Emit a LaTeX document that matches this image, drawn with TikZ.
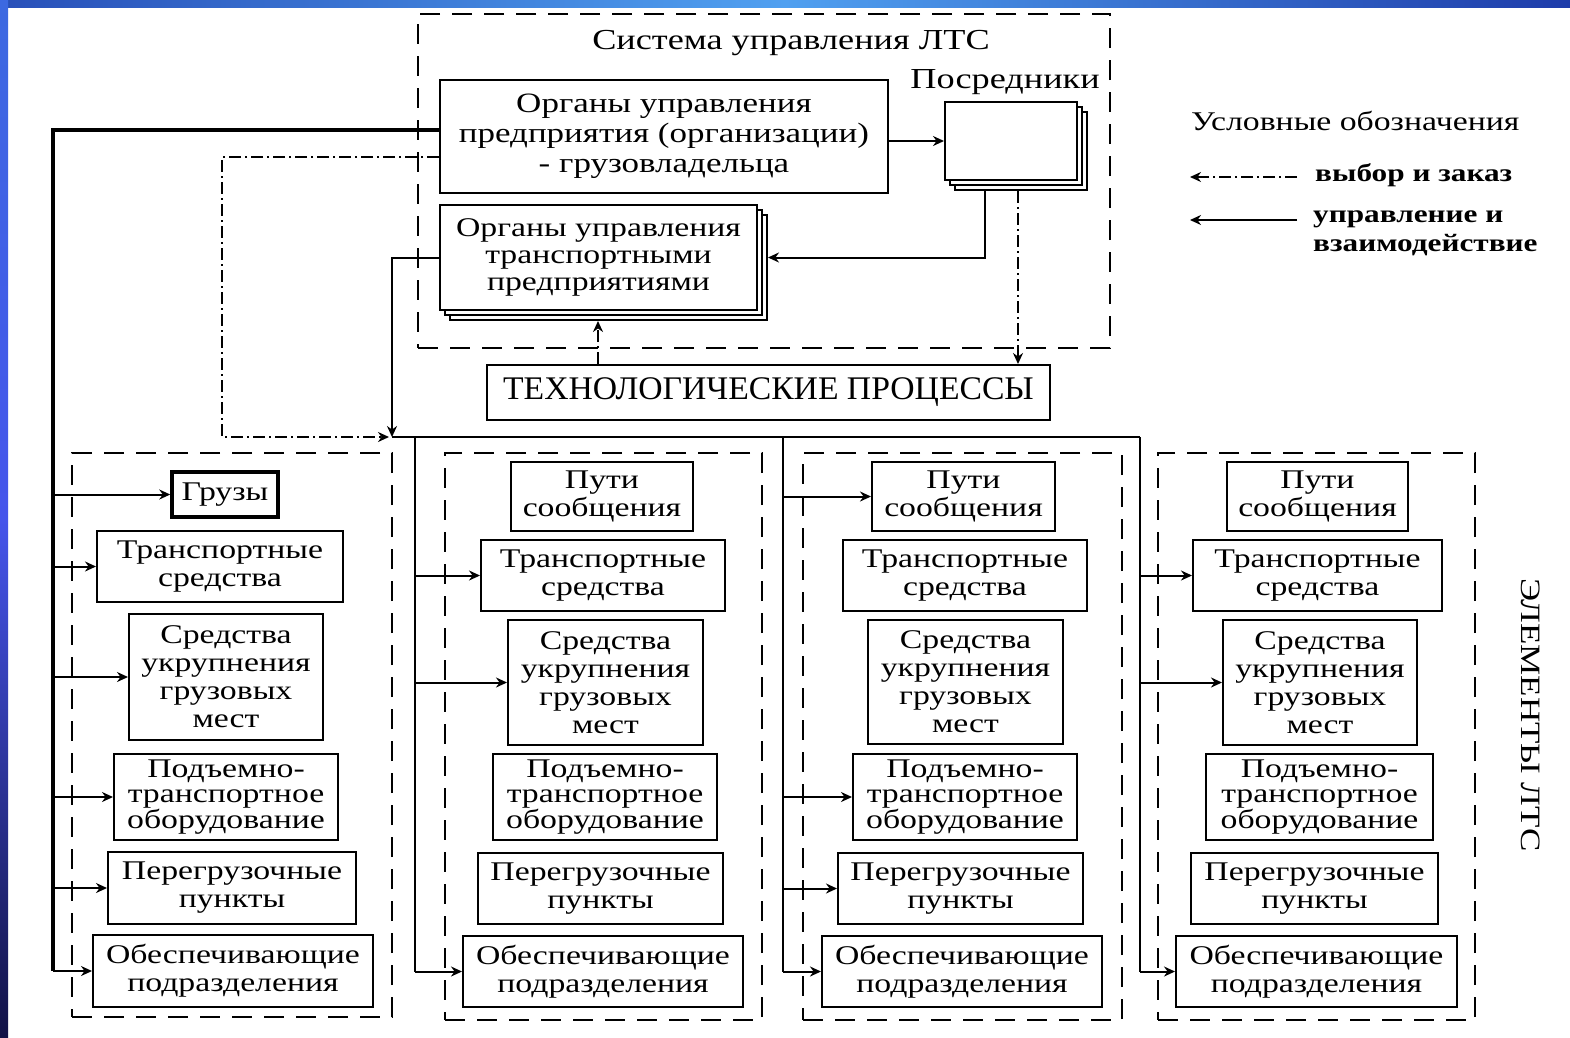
\documentclass[tikz,border=0pt]{standalone}
\usepackage{fontspec}
\setmainfont{Liberation Serif}
\newfontfamily\wf{Liberation Serif}[FakeStretch=1.25]
\newfontfamily\nf{Liberation Serif}[FakeStretch=1.02]
\usetikzlibrary{arrows.meta}
\definecolor{stripA}{RGB}{40,80,185}
\definecolor{stripB}{RGB}{80,160,240}
\definecolor{stripC}{RGB}{30,60,170}
\definecolor{leftA}{RGB}{60,105,225}
\definecolor{leftB}{RGB}{70,85,235}
\definecolor{leftC}{RGB}{18,18,70}
\tikzset{
 box/.style={draw, line width=2pt, fill=white, inner sep=0pt, align=center, font=\wf\fontsize{27}{28}\selectfont},
 dbox/.style={draw, line width=2pt, dash pattern=on 20pt off 12pt, fill=none},
 arr/.style={line width=2pt, -{Stealth[length=11pt,width=10pt]}},
 ln/.style={line width=2pt},
 bus/.style={line width=3.5pt},
 dd/.style={line width=2pt, dash pattern=on 12pt off 4pt on 2pt off 4pt},
 ddarr/.style={dd, -{Stealth[length=11pt,width=10pt]}},
 lbl/.style={inner sep=0pt, font=\wf\fontsize{27}{28}\selectfont},
}
\newcommand\bx[7][]{\node[box,minimum width={(#5-#3)*1pt},minimum height={(#6-#4)*1pt},#1] (#2) at ({(#3+#5)/2},{(#4+#6)/2}) {#7};}
\begin{document}
\begin{tikzpicture}[x=1pt,y=-1pt]
\useasboundingbox (0,0) rectangle (1570,1037);
\fill[white] (0,0) rectangle (1570,1037);
\shade[left color=stripA, right color=stripC, middle color=stripB] (0,0) rectangle (1570,7);
\shade[top color=leftA, bottom color=leftC, middle color=leftB] (0,0) rectangle (8,1037);

% --- upper system
\bx[dbox]{sys}{418}{14}{1110}{348}{}
\node[lbl, font=\wf\fontsize{29}{30}\selectfont] (title) at (791,43) {Система управления ЛТС};
\bx[font=\wf\fontsize{28}{30}\selectfont]{A}{440}{80}{888}{193}{Органы управления\\предприятия (организации)\\- грузовладельца}
\node[lbl, font=\wf\fontsize{29}{30}\selectfont] (posl) at (1005,82) {Посредники};
\bx{P3}{955}{112}{1087}{190}{}
\bx{P2}{950}{107}{1082}{185}{}
\bx{P}{945}{102}{1077}{180}{}
\bx{B3}{450}{215}{767}{320}{}
\bx{B2}{445}{210}{762}{315}{}
\bx[font=\wf\fontsize{27}{27}\selectfont]{B}{440}{205}{757}{310}{Органы управления\\транспортными\\предприятиями}
\bx[font=\nf\fontsize{33}{34}\selectfont]{T}{487}{365}{1050}{420}{ТЕХНОЛОГИЧЕСКИЕ ПРОЦЕССЫ}

% --- legend
\node[lbl, anchor=west] (lgh) at (1191,121) {Условные обозначения};
\node[lbl, anchor=west, font=\wf\bfseries\fontsize{25}{28}\selectfont] (lg1) at (1315,175) {выбор и заказ};
\node[lbl, anchor=west, align=left, font=\wf\bfseries\fontsize{25}{29}\selectfont] (lg2) at (1313,233) {управление и\\взаимодействие};
\coordinate (l1s) at (1297,177);
\coordinate (l1e) at (1190,177);
\coordinate (l2s) at (1297,220);
\coordinate (l2e) at (1190,220);
\draw[ddarr] (l1s) -- (l1e);
\draw[arr] (l2s) -- (l2e);

\node[lbl, rotate=-90, font=\wf\fontsize{28}{28}\selectfont] (elem) at (1531,715) {ЭЛЕМЕНТЫ ЛТС};

% --- group 1
\bx[dbox]{G1}{72}{453}{392}{1017}{}
\bx[line width=3.5pt]{ga1}{172}{472}{278}{517}{Грузы}
\bx{ga2}{97}{531}{343}{602}{Транспортные\\средства}
\bx{ga3}{129}{614}{323}{740}{Средства\\укрупнения\\грузовых\\мест}
\bx[font=\wf\fontsize{27}{25}\selectfont]{ga4}{114}{754}{338}{840}{Подъемно-\\транспортное\\оборудование}
\bx{ga5}{108}{852}{356}{924}{Перегрузочные\\пункты}
\bx{ga6}{93}{935}{373}{1007}{Обеспечивающие\\подразделения}

% --- group 2
\bx[dbox]{G2}{445}{453}{762}{1020}{}
\bx{gb1}{511}{462}{693}{531}{Пути\\сообщения}
\bx{gb2}{481}{540}{725}{611}{Транспортные\\средства}
\bx{gb3}{508}{620}{703}{745}{Средства\\укрупнения\\грузовых\\мест}
\bx[font=\wf\fontsize{27}{25}\selectfont]{gb4}{493}{754}{717}{840}{Подъемно-\\транспортное\\оборудование}
\bx{gb5}{478}{853}{723}{924}{Перегрузочные\\пункты}
\bx{gb6}{463}{936}{743}{1007}{Обеспечивающие\\подразделения}

% --- group 3
\bx[dbox]{G3}{803}{453}{1122}{1020}{}
\bx{gc1}{872}{462}{1055}{531}{Пути\\сообщения}
\bx{gc2}{843}{540}{1087}{611}{Транспортные\\средства}
\bx{gc3}{868}{620}{1063}{744}{Средства\\укрупнения\\грузовых\\мест}
\bx[font=\wf\fontsize{27}{25}\selectfont]{gc4}{853}{754}{1077}{840}{Подъемно-\\транспортное\\оборудование}
\bx{gc5}{838}{853}{1083}{924}{Перегрузочные\\пункты}
\bx{gc6}{822}{936}{1102}{1007}{Обеспечивающие\\подразделения}

% --- group 4
\bx[dbox]{G4}{1158}{453}{1475}{1020}{}
\bx{gd1}{1227}{462}{1408}{531}{Пути\\сообщения}
\bx{gd2}{1193}{540}{1442}{611}{Транспортные\\средства}
\bx{gd3}{1223}{620}{1417}{745}{Средства\\укрупнения\\грузовых\\мест}
\bx[font=\wf\fontsize{27}{25}\selectfont]{gd4}{1206}{754}{1433}{840}{Подъемно-\\транспортное\\оборудование}
\bx{gd5}{1191}{853}{1438}{924}{Перегрузочные\\пункты}
\bx{gd6}{1176}{936}{1457}{1007}{Обеспечивающие\\подразделения}

% --- coordinates for buses
\coordinate (busA) at (53,130);
\coordinate (ddA) at (222,157);
\coordinate (J) at (392,437);
\coordinate (busB) at (415,437);
\coordinate (busC) at (783,437);
\coordinate (busD) at (1140,437);
\coordinate (pb) at (985,0);
\coordinate (pt) at (1018,0);
\coordinate (tb) at (598,0);

% --- upper connectors
\draw[arr] (P.west -| A.east) -- (P.west);
\draw[arr] (P3.south -| pb) |- (B.center -| B3.east);
\draw[ddarr] (P3.south -| pt) -- (T.north -| pt);
\draw[ddarr] (T.north -| tb) -- (B3.south -| tb);

% --- left thick bus
\draw[bus] (A.west |- busA) -- (busA) -- (busA |- ga6.west);
\foreach \n in {ga1,ga2,ga3,ga4,ga5,ga6}{\draw[arr] (busA |- \n.west) -- (\n.west);}

% --- dash-dot from A
\draw[ddarr] (A.west |- ddA) -- (ddA) -- (ddA |- J) -- ([xshift=-3pt]J);

% --- from B down to junction
\draw[arr] (B.west) -| (J);
\draw[ln] (J) -- (busD);
\draw[ln] (busB) -- (busB |- gb6.west);
\draw[ln] (busC) -- (busC |- gc6.west);
\draw[ln] (busD) -- (busD |- gd6.west);
\foreach \n in {gb2,gb3,gb6}{\draw[arr] (busB |- \n.west) -- (\n.west);}
\foreach \n in {gc1,gc4,gc5,gc6}{\draw[arr] (busC |- \n.west) -- (\n.west);}
\foreach \n in {gd2,gd3,gd6}{\draw[arr] (busD |- \n.west) -- (\n.west);}
\end{tikzpicture}
\end{document}
